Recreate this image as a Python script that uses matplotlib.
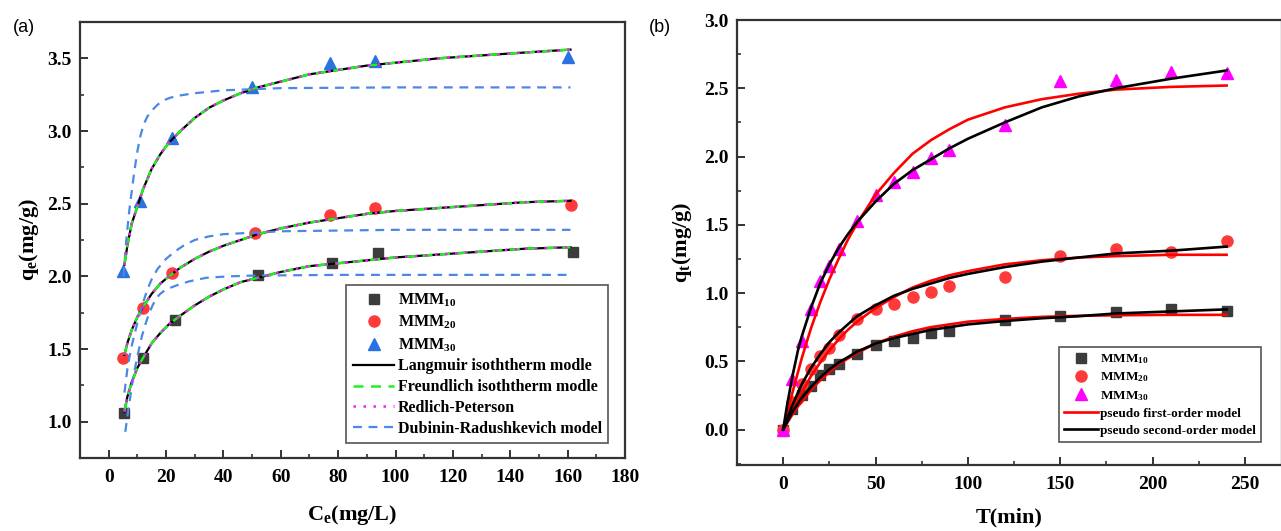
import matplotlib
matplotlib.use("Agg")
import matplotlib.pyplot as plt
from matplotlib.ticker import MultipleLocator, FormatStrFormatter

plt.rcParams['font.family'] = ['Liberation Serif', 'DejaVu Serif']
plt.rcParams['font.weight'] = 'bold'
plt.rcParams['mathtext.fontset'] = 'custom'
plt.rcParams['mathtext.rm'] = 'Liberation Serif:bold'
plt.rcParams['mathtext.it'] = 'Liberation Serif:bold'
plt.rcParams['mathtext.bf'] = 'Liberation Serif:bold'

# ---- (a) isotherms: measured points ----
ce10 = [5.5, 12, 23, 52, 78, 94, 162]
qe10 = [1.06, 1.44, 1.70, 2.01, 2.09, 2.16, 2.17]
ce20 = [5, 12, 22, 51, 77, 93, 161]
qe20 = [1.44, 1.78, 2.02, 2.30, 2.42, 2.47, 2.49]
ce30 = [5, 11, 22, 50, 77, 93, 160]
qe30 = [2.04, 2.52, 2.95, 3.30, 3.47, 3.48, 3.51]

# fitted curves (Langmuir / Freundlich / R-P coincide)
fit_x = [5.5, 6.5, 8, 10, 12, 15, 18, 21, 25, 30, 35, 40, 46, 52, 60, 70, 80, 90, 100, 115, 130, 145, 161]
fit10 = [1.07, 1.17, 1.27, 1.37, 1.44, 1.54, 1.61, 1.67, 1.73, 1.80, 1.86, 1.91, 1.96, 1.99, 2.03, 2.07,
         2.09, 2.11, 2.13, 2.15, 2.17, 2.19, 2.20]
fit20 = [1.46, 1.54, 1.63, 1.72, 1.79, 1.88, 1.95, 2.00, 2.06, 2.12, 2.17, 2.21, 2.25, 2.29, 2.33, 2.37,
         2.40, 2.43, 2.45, 2.47, 2.49, 2.51, 2.52]
fit30 = [2.08, 2.21, 2.36, 2.48, 2.60, 2.74, 2.84, 2.92, 3.00, 3.09, 3.16, 3.21, 3.26, 3.30, 3.34, 3.39,
         3.42, 3.45, 3.47, 3.50, 3.52, 3.54, 3.56]

# Dubinin-Radushkevich curves
dr10_x = [5.8, 6.4, 7, 7.6, 8.2, 9, 10, 10.8, 11.6, 12.8, 14, 15.3, 16.6, 18, 20, 24, 28, 34, 42, 50, 80, 161]
dr10_y = [0.93, 1.02, 1.10, 1.18, 1.26, 1.35, 1.45, 1.52, 1.59, 1.67, 1.74, 1.80, 1.85, 1.88, 1.91, 1.94,
          1.965, 1.99, 2.00, 2.005, 2.01, 2.01]
dr20_x = [5.5, 6, 6.5, 7.2, 8, 9, 10, 11, 12, 13.5, 15, 17, 20, 23, 26, 30, 35, 40, 50, 60, 100, 161]
dr20_y = [1.20, 1.28, 1.36, 1.44, 1.52, 1.60, 1.68, 1.75, 1.82, 1.91, 1.98, 2.05, 2.12, 2.17, 2.21, 2.25,
          2.275, 2.29, 2.30, 2.31, 2.32, 2.32]
dr30_x = [5.2, 5.6, 6, 6.5, 7, 7.6, 8.2, 9, 10, 11.1, 12.3, 13.5, 15, 17, 19, 21.6, 25, 30, 40, 60, 100, 161]
dr30_y = [2.00, 2.11, 2.22, 2.32, 2.42, 2.52, 2.61, 2.73, 2.86, 2.97, 3.05, 3.10, 3.14, 3.18, 3.21, 3.23,
          3.245, 3.26, 3.28, 3.295, 3.30, 3.30]

# ---- (b) kinetics ----
t_pts = [0, 5, 10, 15, 20, 25, 30, 40, 50, 60, 70, 80, 90, 120, 150, 180, 210, 240]
qt10 = [0, 0.15, 0.25, 0.32, 0.40, 0.44, 0.48, 0.55, 0.62, 0.65, 0.67, 0.71, 0.72, 0.80, 0.83, 0.86, 0.88, 0.87]
qt20 = [0, 0.20, 0.33, 0.44, 0.54, 0.60, 0.69, 0.81, 0.88, 0.92, 0.97, 1.01, 1.05, 1.12, 1.27, 1.32, 1.30, 1.38]
qt30 = [0, 0.37, 0.65, 0.88, 1.09, 1.20, 1.32, 1.53, 1.72, 1.81, 1.89, 1.99, 2.05, 2.23, 2.55, 2.56, 2.62, 2.61]

t_fit = [0, 2, 5, 8, 10, 15, 20, 25, 30, 35, 40, 50, 60, 70, 80, 90, 100, 120, 140, 160, 180, 210, 240]
pfo10 = [0, 0.045, 0.11, 0.17, 0.20, 0.29, 0.36, 0.42, 0.48, 0.52, 0.56, 0.63, 0.68, 0.72, 0.75, 0.77,
         0.79, 0.81, 0.825, 0.833, 0.837, 0.84, 0.84]
pfo20 = [0, 0.06, 0.15, 0.23, 0.27, 0.39, 0.49, 0.58, 0.66, 0.73, 0.79, 0.89, 0.97, 1.04, 1.09, 1.13,
         1.16, 1.21, 1.24, 1.26, 1.27, 1.28, 1.28]
pfo30 = [0, 0.11, 0.27, 0.42, 0.52, 0.74, 0.93, 1.10, 1.25, 1.39, 1.51, 1.72, 1.88, 2.02, 2.12, 2.20,
         2.27, 2.36, 2.42, 2.46, 2.49, 2.51, 2.52]
pso10 = [0, 0.05, 0.13, 0.19, 0.23, 0.31, 0.38, 0.44, 0.49, 0.53, 0.57, 0.63, 0.67, 0.70, 0.73, 0.75,
         0.77, 0.795, 0.815, 0.83, 0.85, 0.865, 0.88]
pso20 = [0, 0.07, 0.18, 0.27, 0.33, 0.45, 0.55, 0.64, 0.71, 0.77, 0.83, 0.91, 0.98, 1.03, 1.07, 1.11,
         1.14, 1.19, 1.23, 1.26, 1.29, 1.31, 1.34]
pso30 = [0, 0.17, 0.39, 0.58, 0.68, 0.89, 1.07, 1.21, 1.33, 1.43, 1.52, 1.67, 1.80, 1.90, 1.98, 2.06,
         2.13, 2.25, 2.36, 2.44, 2.50, 2.57, 2.63]

fig = plt.figure(figsize=(12.81, 5.31), dpi=100)
W, H = 1281, 531
ax1 = fig.add_axes([80 / W, 1 - 458 / H, 545 / W, 436 / H])
ax2 = fig.add_axes([737 / W, 1 - 465 / H, 545 / W, 445 / H])

blue = '#2a72e0'
drblue = '#4a88e6'
red = '#ff3a3a'
grey = '#3c3c3c'

# panel a
h10, = ax1.plot(ce10, qe10, 's', color=grey, ms=7, ls='none', zorder=2, label='MMM$_{10}$')
h20, = ax1.plot(ce20, qe20, 'o', color=red, ms=8, ls='none', zorder=2, label='MMM$_{20}$')
h30, = ax1.plot(ce30, qe30, '^', color=blue, ms=9, ls='none', zorder=2, label='MMM$_{30}$')
for fy in (fit10, fit20, fit30):
    hl, = ax1.plot(fit_x, fy, '-', color='black', lw=1.6, zorder=3)
    hf, = ax1.plot(fit_x, fy, '--', color='#22ee22', lw=1.8, dashes=(4, 3), zorder=4)
    hr, = ax1.plot(fit_x, fy, ':', color='#ee22ee', lw=1.8, dashes=(1, 3), zorder=5)
for dx, dy in ((dr10_x, dr10_y), (dr20_x, dr20_y), (dr30_x, dr30_y)):
    hd, = ax1.plot(dx, dy, '--', color=drblue, lw=1.6, dashes=(4, 3), zorder=3)
hl.set_label('Langmuir isoththerm modle')
hf.set_label('Freundlich isoththerm modle')
hr.set_label('Redlich-Peterson')
hd.set_label('Dubinin-Radushkevich model')

ax1.set_xlim(-10, 180)
ax1.set_ylim(0.75, 3.75)
ax1.xaxis.set_major_locator(MultipleLocator(20))
ax1.xaxis.set_minor_locator(MultipleLocator(10))
ax1.yaxis.set_major_locator(MultipleLocator(0.5))
ax1.yaxis.set_minor_locator(MultipleLocator(0.25))
ax1.yaxis.set_major_formatter(FormatStrFormatter('%.1f'))
ax1.set_xlabel('C$_e$(mg/L)', fontsize=16, fontweight='bold')
ax1.set_ylabel('q$_e$(mg/g)', fontsize=16, fontweight='bold')
ax1.xaxis.set_label_coords(0.5, -0.131)
ax1.yaxis.set_label_coords(-0.094, 0.5)
leg1 = ax1.legend(handles=[h10, h20, h30, hl, hf, hr, hd], loc='lower right',
                  bbox_to_anchor=(0.969, 0.034), borderaxespad=0, fontsize=11.5,
                  numpoints=1, handlelength=2.6, handletextpad=0.2, labelspacing=0.3,
                  fancybox=False, framealpha=1, edgecolor='#555555')
leg1.get_frame().set_linewidth(1.2)

# panel b
g10, = ax2.plot(t_pts, qt10, 's', color=grey, ms=7, ls='none', zorder=2, label='MMM$_{10}$')
g20, = ax2.plot(t_pts, qt20, 'o', color=red, ms=8, ls='none', zorder=2, label='MMM$_{20}$')
g30, = ax2.plot(t_pts, qt30, '^', color='#ff00ff', ms=9, ls='none', zorder=2, label='MMM$_{30}$')
for py in (pfo10, pfo20, pfo30):
    gp, = ax2.plot(t_fit, py, '-', color='#ff0000', lw=1.9, zorder=3)
for sy in (pso10, pso20, pso30):
    gs, = ax2.plot(t_fit, sy, '-', color='black', lw=1.9, zorder=4)
gp.set_label('pseudo first-order model')
gs.set_label('pseudo second-order model')

ax2.set_xlim(-25, 270)
ax2.set_ylim(-0.26, 3.0)
ax2.xaxis.set_major_locator(MultipleLocator(50))
ax2.xaxis.set_minor_locator(MultipleLocator(25))
ax2.yaxis.set_major_locator(MultipleLocator(0.5))
ax2.yaxis.set_minor_locator(MultipleLocator(0.25))
ax2.yaxis.set_major_formatter(FormatStrFormatter('%.1f'))
ax2.set_xlabel('T(min)', fontsize=16, fontweight='bold')
ax2.set_ylabel('q$_t$(mg/g)', fontsize=16, fontweight='bold')
ax2.xaxis.set_label_coords(0.5, -0.119)
ax2.yaxis.set_label_coords(-0.101, 0.5)
leg2 = ax2.legend(handles=[g10, g20, g30, gp, gs], loc='lower right',
                  bbox_to_anchor=(0.961, 0.052), borderaxespad=0, fontsize=9.5,
                  numpoints=1, handlelength=2.6, handletextpad=0.1, labelspacing=0.35,
                  fancybox=False, framealpha=1, edgecolor='#555555')
leg2.get_frame().set_linewidth(1.2)

for ax in (ax1, ax2):
    ax.xaxis.label.set_va('center')
    ax.yaxis.label.set_va('center')
    for s in ax.spines.values():
        s.set_linewidth(1.6)
        s.set_color('#333333')
    ax.tick_params(which='major', direction='in', length=6, width=1.4, labelsize=14,
                   top=False, right=False, color='#333333')
    ax.tick_params(which='minor', direction='in', length=3, width=1.2,
                   top=False, right=False, color='#333333')
    ax.tick_params(axis='x', which='major', pad=8)
    ax.tick_params(axis='y', which='major', pad=6)

fig.text(24 / W, 1 - 28 / H, '(a)', fontsize=13, fontweight='normal',
         family='Liberation Sans', ha='center', va='center')
fig.text(660 / W, 1 - 28 / H, '(b)', fontsize=13, fontweight='normal',
         family='Liberation Sans', ha='center', va='center')

fig.savefig('out.png', dpi=100)
